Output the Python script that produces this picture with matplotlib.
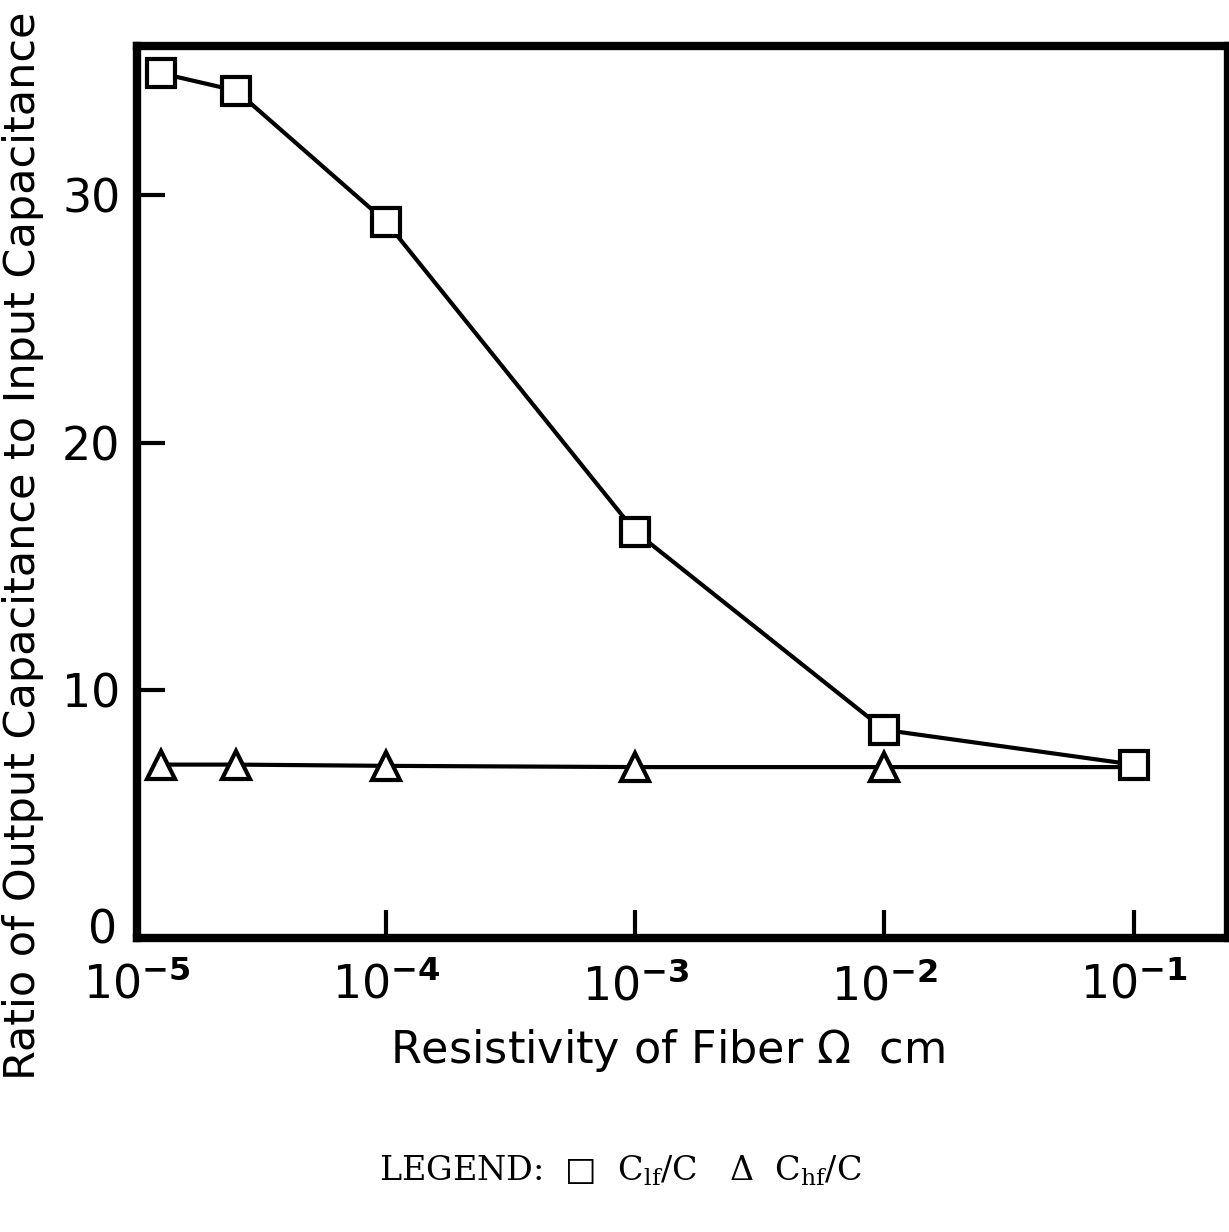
import numpy as np
import matplotlib
matplotlib.use('Agg')
import matplotlib.pyplot as plt
from matplotlib.ticker import FixedLocator, FuncFormatter, NullLocator
from matplotlib.transforms import ScaledTranslation

# data
resistivity_lf = [1.25e-5, 2.5e-5, 1e-4, 1e-3, 1e-2, 1e-1]
ratio_lf = [34.9, 34.2, 28.9, 16.4, 8.4, 7.0]

resistivity_hf = [1.25e-5, 2.5e-5, 1e-4, 1e-3, 1e-2, 1e-1]
ratio_hf = [7.0, 7.0, 6.95, 6.9, 6.9, 6.9]

x_ticks = [1e-5, 1e-4, 1e-3, 1e-2, 1e-1]
y_ticks = [0, 10, 20, 30]

font = {'family': 'DejaVu Sans', 'size': 33}
matplotlib.rc('font', **font)

fig = plt.figure(figsize=(12.29, 12.32), dpi=100)
ax = fig.add_axes([0.1115, 0.2386, 0.888, 0.724])

ax.plot(resistivity_hf, ratio_hf, color='black', lw=3, marker='^', ms=20,
        mfc='white', mec='black', mew=3, markevery=[0, 1, 2, 3, 4], zorder=3)
ax.plot(resistivity_lf, ratio_lf, color='black', lw=3, marker='s', ms=20,
        mfc='white', mec='black', mew=3, zorder=4)

ax.set_xscale('log')
ax.set_xlim(1e-5, 0.24)
ax.set_ylim(0, 36)

ax.xaxis.set_major_locator(FixedLocator(x_ticks))
ax.xaxis.set_minor_locator(NullLocator())
ax.xaxis.set_major_formatter(FuncFormatter(
    lambda v, p: r'$\mathregular{10^{\mathbf{-%d}}}$' % abs(int(round(np.log10(v))))))
ax.set_yticks(y_ticks)

ax.tick_params(direction='in', length=20, width=3, labelsize=33)
ax.tick_params(axis='x', pad=18)
ax.tick_params(axis='y', pad=12)

# the "0" sits a little above the corner in the original
zero_lab = ax.yaxis.get_major_ticks()[0].label1
zero_lab.set_transform(zero_lab.get_transform() + ScaledTranslation(-2 / 72, 9 / 72, fig.dpi_scale_trans))

for side in ['left', 'bottom', 'top', 'right']:
    ax.spines[side].set_linewidth(6)

ax.set_xlabel(r'Resistivity of Fiber $\mathregular{\Omega}$  cm', fontsize=32)
ax.xaxis.set_label_coords(0.486, -0.1)
ax.set_ylabel('Ratio of Output Capacitance to Input Capacitance', fontsize=31)
ax.yaxis.set_label_coords(-0.085, 0.44)

fig.text(0.505, 0.05,
         'LEGEND:  \u25a1  C$\\mathregular{_{lf}}$/C   \u0394  C$\\mathregular{_{hf}}$/C',
         family=['DejaVu Serif', 'DejaVu Sans'], fontsize=24, ha='center', va='center')

fig.savefig('out.png', dpi=100)
